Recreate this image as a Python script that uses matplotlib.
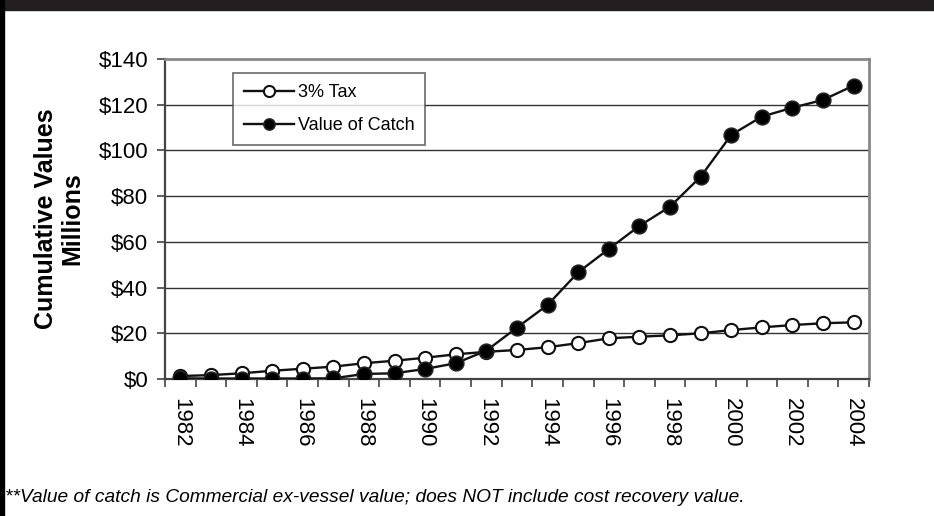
import numpy as np
import matplotlib
matplotlib.use("Agg")
import matplotlib.pyplot as plt
from matplotlib.patches import Rectangle
from matplotlib.ticker import FuncFormatter

plt.rcParams['font.family'] = ['Liberation Sans', 'DejaVu Sans']

years = list(range(1982, 2005))
tax = [1.3, 1.7, 2.5, 3.6, 4.5, 5.4, 6.9, 8.0, 9.3, 10.8, 11.9, 12.7,
       13.9, 15.7, 17.8, 18.5, 19.1, 20.0, 21.4, 22.6, 23.6, 24.4, 24.8]
catch = [0.3, 0.2, 0.2, 0.2, 0.2, 0.3, 2.2, 2.5, 4.4, 6.9, 12.4, 22.5,
         32.4, 46.7, 56.9, 67.0, 75.4, 88.5, 106.8, 114.8, 118.7, 122.1, 128.4]
yticks = [0, 20, 40, 60, 80, 100, 120, 140]

fig = plt.figure(figsize=(9.34, 5.16), dpi=100)
ax = fig.add_axes([165 / 934, 1 - 379 / 516, 704 / 934, 320 / 516])

x = np.arange(len(years))

# gridlines first so the series sit on top
for v in yticks[1:-1]:
    ax.axhline(v, color='#333333', lw=1.0, zorder=1)

ax.plot(x, tax, color='#111111', lw=1.7, marker='o', ms=9.5,
        mfc='white', mec='#111111', mew=1.5, label='3% Tax', zorder=3)
ax.plot(x, catch, color='#111111', lw=1.7, marker='o', ms=10.5,
        mfc='black', mec='#222222', mew=1.2, label='Value of Catch', zorder=4)

ax.set_xlim(-0.5, len(years) - 0.5)
ax.set_ylim(0, 140)
ax.set_yticks(yticks)
ax.yaxis.set_major_formatter(FuncFormatter(lambda v, p: f'${v:.0f}'))

# category axis: ticks between years, labels every other year
ax.set_xticks(np.arange(-0.5, len(years)), minor=False)
ax.set_xticklabels([])
ax.set_xticks(x[::2], minor=True)
ax.set_xticklabels([str(y) for y in years[::2]], minor=True, rotation=-90,
                   fontsize=16)
ax.tick_params(axis='x', which='minor', length=0, pad=14)
ax.tick_params(axis='x', which='major', length=6, width=1.2, color='#444444')
ax.tick_params(axis='y', length=6, width=1.2, color='#444444',
               labelsize=16, pad=6)

for s in ['top', 'right']:
    ax.spines[s].set_color('#888888')
    ax.spines[s].set_linewidth(2)
for s in ['left', 'bottom']:
    ax.spines[s].set_color('#444444')
    ax.spines[s].set_linewidth(1.6)

ax.set_ylabel('Cumulative Values\nMillions', fontsize=18, fontweight='bold',
              labelpad=10, linespacing=1.15)

leg = ax.legend(loc='upper left', bbox_to_anchor=((233 - 165) / 704, (379 - 73) / 320),
                borderaxespad=0, fontsize=13, frameon=True, fancybox=False,
                handlelength=2.8, labelspacing=0.9, borderpad=0.6,
                handletextpad=0.2)
leg.get_frame().set_edgecolor('#444444')
leg.get_frame().set_linewidth(1.2)
for h in leg.legend_handles:
    h.set_markersize(8)

fig.text(5 / 934, 1 - 497 / 516,
         '**Value of catch is Commercial ex-vessel value; does NOT include cost recovery value.',
         style='italic', fontsize=13.8, va='center', ha='left')

# dark header band and left border
fig.patches.append(Rectangle((0, 1 - 10 / 516), 1, 10 / 516, transform=fig.transFigure,
                             color='#231f20', zorder=0))
fig.patches.append(Rectangle((0, 0), 3.5 / 934, 1, transform=fig.transFigure,
                             color='black', zorder=0))

fig.savefig('out.png', dpi=100)
